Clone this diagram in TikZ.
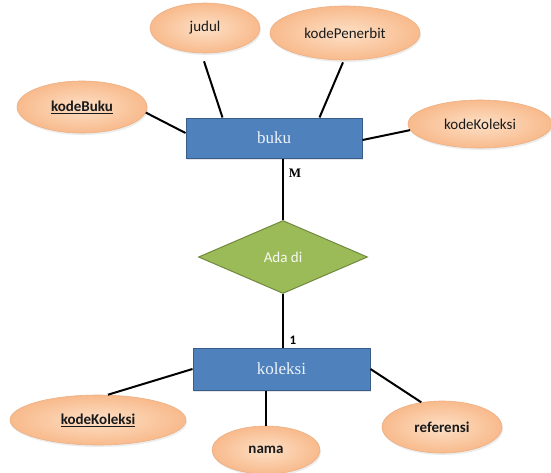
\documentclass[tikz,border=0pt]{standalone}
\usepackage{fontspec}
\setmainfont{Carlito}
\newfontfamily\serifx{Liberation Serif}
\usetikzlibrary{shapes.geometric,shadows}
\definecolor{entfill}{HTML}{4F81BD}
\definecolor{entborder}{HTML}{385D8A}
\definecolor{relfill}{HTML}{9BBB59}
\definecolor{relborder}{HTML}{71893F}
\definecolor{attin}{HTML}{FDE0C6}
\definecolor{attout}{HTML}{F8BA8C}
\definecolor{attborder}{HTML}{EDB083}
\definecolor{txtdark}{HTML}{1A1A1A}
\tikzset{
  attr/.style={ellipse, draw=attborder, line width=0.6pt, inner color=attin, outer color=attout,
    inner sep=0pt, font=\fontsize{15}{17}\selectfont, text=txtdark,
    drop shadow={opacity=0.15, shadow xshift=1pt, shadow yshift=-2pt}},
  battr/.style={attr, font=\fontsize{15}{17}\selectfont\bfseries},
  entity/.style={rectangle, draw=entborder, line width=1pt, fill=entfill, inner sep=0pt,
    font=\serifx\fontsize{17}{19}\selectfont, text=white!90!entfill,
    drop shadow={opacity=0.2, shadow xshift=1pt, shadow yshift=-2pt}},
  relation/.style={diamond, draw=relborder, line width=1pt, fill=relfill, inner sep=0pt,
    font=\fontsize{15}{17}\selectfont, text=white!92!relfill},
  conn/.style={line width=2pt, black},
  card/.style={font=\fontsize{13}{15}\selectfont\bfseries, text=black, inner sep=0pt}
}
\begin{document}
\begin{tikzpicture}[x=1pt,y=-1pt]
\fill[white] (0,0) rectangle (551,472);
\useasboundingbox (0,0) rectangle (551,472);

% attributes of buku
\node[attr, minimum width=110pt, minimum height=50pt] (judul) at (205,28) {judul};
\node[attr, minimum width=150pt, minimum height=54pt] (kp) at (345,33) {kodePenerbit};
\node[battr, minimum width=130pt, minimum height=52pt] (kb) at (82,107) {\underline{kodeBuku}};
\node[attr, minimum width=144pt, minimum height=48pt] (kk) at (480,124) {kodeKoleksi};

% entities and relation
\node[entity, minimum width=176pt, minimum height=40pt] (buku) at (274,138) {buku};
\node[relation, minimum width=169pt, minimum height=73pt] (rel) at (283,257) {Ada di};
\node[entity, minimum width=177pt, minimum height=42pt] (koleksi) at (281.5,369) {koleksi};

% attributes of koleksi
\node[battr, minimum width=176pt, minimum height=50pt] (kk2) at (98,420) {\underline{kodeKoleksi}};
\node[battr, minimum width=108pt, minimum height=48pt] (nama) at (266,450) {nama};
\node[battr, minimum width=120pt, minimum height=52pt] (ref) at (442,427) {referensi};

% cardinalities
\node[card, font=\serifx\fontsize{13}{15}\selectfont\bfseries] (m) at (295,173) {M};
\node[card] (one) at (293,340) {1};

% connectors
\draw[conn] ([shift={(-1,8)}]judul.south) -- ([xshift=37pt]buku.north west);
\draw[conn] ([shift={(-2,2)}]kp.south) -- ([xshift=134pt]buku.north west);
\draw[conn] (kb.-5) -- ([yshift=5pt]buku.west);
\draw[conn] (kk.185) -- ([yshift=-2pt]buku.east);
\draw[conn] (rel.north |- buku.south) -- (rel.north);
\draw[conn] (rel.south) -- (rel.south |- koleksi.north);
\draw[conn] (koleksi.west) -- ([xshift=10pt]kk2.north);
\draw[conn] (nama.north |- koleksi.south) -- (nama.north);
\draw[conn] (koleksi.east) -- (ref.130);
\end{tikzpicture}
\end{document}
